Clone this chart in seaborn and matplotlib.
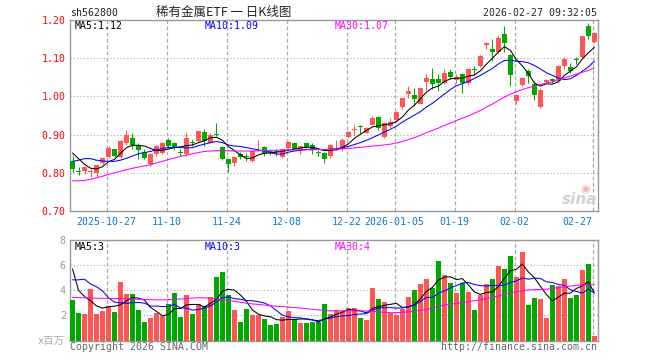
import numpy as np
import pandas as pd
import matplotlib.pyplot as plt
import seaborn as sns

# 稀有金属ETF (sh562800) daily K-line
# 88 trading days, 2025-10-17 .. 2026-02-27
opens = [0.832, 0.805, 0.806, 0.801, 0.800, 0.826, 0.842, 0.861, 0.842, 0.877,
         0.891, 0.874, 0.854, 0.822, 0.848, 0.852, 0.885, 0.878, 0.854, 0.848,
         0.881, 0.883, 0.908, 0.878, 0.902, 0.868, 0.835, 0.826, 0.850, 0.843,
         0.830, 0.864, 0.868, 0.857, 0.855, 0.842, 0.865, 0.878, 0.859, 0.877,
         0.874, 0.853, 0.852, 0.843, 0.864, 0.861, 0.893, 0.911, 0.923, 0.905,
         0.926, 0.946, 0.894, 0.922, 0.939, 0.972, 1.005, 1.003, 0.981, 1.039,
         1.045, 1.045, 1.036, 1.064, 1.043, 1.058, 1.034, 1.070, 1.080, 1.134,
         1.124, 1.115, 1.163, 1.108, 0.989, 1.030, 1.067, 1.032, 0.973, 1.039,
         1.045, 1.040, 1.080, 1.078, 1.097, 1.102, 1.183, 1.143]
highs = [0.845, 0.814, 0.816, 0.810, 0.824, 0.842, 0.870, 0.863, 0.885, 0.913,
         0.903, 0.878, 0.861, 0.852, 0.874, 0.880, 0.891, 0.880, 0.863, 0.904,
         0.889, 0.910, 0.915, 0.903, 0.930, 0.870, 0.836, 0.844, 0.854, 0.852,
         0.859, 0.885, 0.870, 0.860, 0.861, 0.865, 0.883, 0.880, 0.871, 0.878,
         0.877, 0.859, 0.854, 0.876, 0.887, 0.890, 0.909, 0.926, 0.924, 0.919,
         0.948, 0.948, 0.933, 0.944, 0.961, 0.998, 1.027, 1.021, 1.023, 1.058,
         1.075, 1.058, 1.071, 1.071, 1.058, 1.062, 1.073, 1.080, 1.108, 1.143,
         1.150, 1.160, 1.183, 1.111, 1.005, 1.052, 1.071, 1.040, 1.021, 1.046,
         1.048, 1.082, 1.102, 1.087, 1.102, 1.159, 1.192, 1.168]
lows = [0.803, 0.793, 0.797, 0.788, 0.790, 0.822, 0.840, 0.841, 0.839, 0.874,
        0.863, 0.837, 0.835, 0.819, 0.845, 0.850, 0.865, 0.859, 0.843, 0.845,
        0.870, 0.880, 0.871, 0.877, 0.896, 0.833, 0.802, 0.819, 0.835, 0.830,
        0.828, 0.857, 0.845, 0.847, 0.843, 0.840, 0.862, 0.859, 0.850, 0.865,
        0.848, 0.845, 0.826, 0.840, 0.860, 0.858, 0.891, 0.896, 0.904, 0.903,
        0.925, 0.911, 0.890, 0.919, 0.937, 0.968, 0.996, 0.975, 0.979, 1.017,
        1.020, 1.014, 1.033, 1.045, 1.036, 1.010, 1.029, 1.055, 1.078, 1.124,
        1.093, 1.113, 1.115, 1.027, 0.979, 1.027, 1.036, 0.990, 0.970, 1.034,
        1.034, 1.038, 1.071, 1.062, 1.084, 1.100, 1.150, 1.139]
closes = [0.810, 0.803, 0.814, 0.806, 0.820, 0.838, 0.866, 0.843, 0.882, 0.900,
          0.874, 0.859, 0.839, 0.850, 0.870, 0.877, 0.871, 0.868, 0.852, 0.891,
          0.879, 0.909, 0.883, 0.900, 0.900, 0.835, 0.824, 0.842, 0.842, 0.841,
          0.857, 0.866, 0.850, 0.851, 0.854, 0.863, 0.881, 0.863, 0.870, 0.868,
          0.863, 0.852, 0.837, 0.874, 0.866, 0.887, 0.906, 0.914, 0.920, 0.918,
          0.944, 0.916, 0.931, 0.933, 0.958, 0.996, 1.013, 0.992, 1.021, 1.049,
          1.033, 1.034, 1.061, 1.052, 1.052, 1.036, 1.071, 1.069, 1.106, 1.139,
          1.115, 1.154, 1.141, 1.055, 1.003, 1.049, 1.054, 1.003, 1.018, 1.042,
          1.040, 1.080, 1.099, 1.067, 1.096, 1.157, 1.157, 1.166]

# price moving averages as drawn (they start before the visible window)
ma5 = [0.852, 0.837, 0.822, 0.812, 0.810, 0.816, 0.829, 0.835, 0.851, 0.866,
       0.872, 0.872, 0.870, 0.864, 0.858, 0.859, 0.862, 0.866, 0.868, 0.871,
       0.873, 0.879, 0.884, 0.892, 0.893, 0.885, 0.869, 0.858, 0.847, 0.837,
       0.839, 0.847, 0.851, 0.852, 0.854, 0.856, 0.859, 0.862, 0.865, 0.867,
       0.867, 0.863, 0.858, 0.859, 0.860, 0.866, 0.876, 0.890, 0.901, 0.911,
       0.920, 0.923, 0.926, 0.928, 0.934, 0.946, 0.964, 0.977, 0.994, 1.011,
       1.022, 1.027, 1.039, 1.046, 1.048, 1.048, 1.053, 1.056, 1.067, 1.084,
       1.100, 1.116, 1.130, 1.121, 1.096, 1.080, 1.060, 1.035, 1.027, 1.033,
       1.032, 1.038, 1.055, 1.066, 1.077, 1.098, 1.114, 1.128]
ma10 = [0.830, 0.833, 0.837, 0.837, 0.833, 0.831, 0.830, 0.830, 0.833, 0.838,
        0.844, 0.850, 0.853, 0.856, 0.860, 0.864, 0.866, 0.867, 0.866, 0.865,
        0.866, 0.871, 0.875, 0.879, 0.882, 0.879, 0.873, 0.870, 0.869, 0.866,
        0.863, 0.860, 0.857, 0.853, 0.849, 0.849, 0.854, 0.857, 0.859, 0.861,
        0.862, 0.861, 0.860, 0.862, 0.863, 0.866, 0.869, 0.874, 0.879, 0.885,
        0.892, 0.899, 0.907, 0.914, 0.922, 0.933, 0.942, 0.951, 0.960, 0.972,
        0.982, 0.994, 1.006, 1.018, 1.028, 1.033, 1.039, 1.047, 1.055, 1.064,
        1.073, 1.085, 1.094, 1.095, 1.092, 1.091, 1.088, 1.081, 1.072, 1.062,
        1.055, 1.048, 1.044, 1.046, 1.055, 1.066, 1.077, 1.092]
ma30 = [0.779, 0.779, 0.780, 0.783, 0.787, 0.791, 0.796, 0.800, 0.804, 0.808,
        0.812, 0.815, 0.818, 0.821, 0.826, 0.830, 0.835, 0.839, 0.843, 0.846,
        0.850, 0.853, 0.856, 0.857, 0.858, 0.858, 0.858, 0.857, 0.857, 0.857,
        0.857, 0.858, 0.858, 0.859, 0.859, 0.860, 0.860, 0.860, 0.860, 0.860,
        0.860, 0.861, 0.861, 0.861, 0.862, 0.863, 0.864, 0.865, 0.867, 0.868,
        0.870, 0.871, 0.873, 0.875, 0.878, 0.882, 0.887, 0.892, 0.898, 0.905,
        0.911, 0.917, 0.924, 0.930, 0.937, 0.943, 0.949, 0.956, 0.963, 0.972,
        0.980, 0.989, 0.998, 1.006, 1.012, 1.018, 1.023, 1.027, 1.031, 1.035,
        1.038, 1.043, 1.049, 1.053, 1.058, 1.063, 1.068, 1.074]

# volume in millions of shares and its moving averages
volumes = [3.23, 2.21, 2.11, 4.11, 2.11, 2.37, 2.75, 2.29, 4.69, 3.71,
           3.71, 2.43, 1.49, 1.81, 2.16, 1.97, 2.91, 3.79, 1.89, 3.63,
           2.11, 2.91, 2.75, 3.44, 5.07, 5.47, 3.63, 2.43, 1.49, 2.51,
           2.03, 2.03, 1.68, 1.23, 1.31, 1.84, 2.35, 1.68, 1.36, 1.36,
           1.49, 1.49, 2.91, 2.11, 2.43, 2.37, 2.56, 2.61, 1.81, 1.63,
           4.16, 3.31, 3.09, 2.21, 2.03, 2.53, 3.49, 4.03, 4.53, 4.91,
           4.21, 6.35, 5.25, 4.61, 3.81, 4.61, 3.89, 2.43, 3.63, 4.53,
           4.91, 5.97, 5.71, 6.69, 5.07, 7.01, 2.83, 3.39, 3.31, 1.79,
           4.43, 4.35, 4.91, 3.39, 3.63, 5.63, 6.11, 0.35]
vol_ma5 = [5.70, 4.00, 3.50, 3.17, 2.75, 2.58, 2.69, 2.73, 2.84, 3.16,
           3.43, 3.37, 3.21, 2.63, 2.32, 1.97, 2.07, 2.53, 2.54, 2.84,
           2.87, 2.87, 2.66, 2.97, 3.26, 3.93, 4.07, 4.01, 3.62, 3.11,
           2.42, 2.10, 1.95, 1.90, 1.66, 1.62, 1.68, 1.68, 1.71, 1.72,
           1.65, 1.48, 1.72, 1.87, 2.09, 2.26, 2.48, 2.42, 2.36, 2.20,
           2.55, 2.70, 2.80, 2.88, 2.96, 2.63, 2.67, 2.86, 3.32, 3.90,
           4.23, 4.81, 5.05, 5.07, 4.85, 4.93, 4.43, 3.87, 3.67, 3.82,
           3.88, 4.29, 4.95, 5.56, 5.67, 6.09, 5.46, 5.00, 4.32, 3.67,
           3.15, 3.45, 3.76, 3.77, 4.14, 4.35, 4.68, 3.77]
vol_ma10 = [4.83, 4.83, 4.88, 4.50, 4.28, 3.95, 3.40, 3.05, 3.00, 2.96,
            3.01, 3.03, 2.97, 2.74, 2.74, 2.70, 2.72, 2.87, 2.59, 2.58,
            2.42, 2.47, 2.59, 2.76, 3.05, 3.40, 3.47, 3.33, 3.29, 3.18,
            3.17, 3.09, 2.98, 2.76, 2.38, 2.02, 1.89, 1.82, 1.80, 1.69,
            1.63, 1.58, 1.70, 1.79, 1.90, 1.96, 1.98, 2.07, 2.11, 2.14,
            2.41, 2.59, 2.61, 2.62, 2.58, 2.59, 2.69, 2.83, 3.10, 3.43,
            3.43, 3.74, 3.95, 4.19, 4.37, 4.58, 4.62, 4.46, 4.37, 4.33,
            4.40, 4.36, 4.41, 4.62, 4.74, 4.98, 4.88, 4.97, 4.94, 4.67,
            4.62, 4.46, 4.38, 4.05, 3.90, 3.77, 4.09, 3.79]
vol_ma30 = [3.44, 3.42, 3.40, 3.38, 3.36, 3.36, 3.35, 3.34, 3.33, 3.32,
            3.30, 3.28, 3.27, 3.25, 3.23, 3.23, 3.25, 3.28, 3.30, 3.34,
            3.38, 3.41, 3.40, 3.37, 3.32, 3.26, 3.19, 3.12, 3.04, 2.97,
            2.91, 2.87, 2.82, 2.77, 2.73, 2.70, 2.66, 2.62, 2.58, 2.53,
            2.48, 2.44, 2.39, 2.37, 2.37, 2.36, 2.36, 2.35, 2.35, 2.35,
            2.32, 2.28, 2.24, 2.21, 2.22, 2.24, 2.27, 2.33, 2.40, 2.47,
            2.58, 2.70, 2.82, 2.88, 2.95, 3.02, 3.09, 3.17, 3.25, 3.33,
            3.42, 3.55, 3.70, 3.80, 3.88, 3.96, 4.03, 4.05, 4.06, 4.08,
            4.14, 4.20, 4.27, 4.33, 4.38, 4.43, 4.43, 4.43]

tick_pos = [6, 16, 26, 36, 46, 54, 64, 74, 87]
tick_labels = ['2025-10-27', '11-10', '11-24', '12-08', '12-22',
               '2026-01-05', '01-19', '02-02', '02-27']
price_ticks = [0.70, 0.80, 0.90, 1.00, 1.10, 1.20]
vol_ticks = [2, 4, 6, 8]

UP = '#ff5555'
DOWN = '#00a800'
GRID = '#aaaaaa'

df = pd.DataFrame({'open': opens, 'high': highs, 'low': lows, 'close': closes,
                   'ma5': ma5, 'ma10': ma10, 'ma30': ma30, 'vol': volumes,
                   'vma5': vol_ma5, 'vma10': vol_ma10, 'vma30': vol_ma30})
df['idx'] = np.arange(len(df))
df['dir'] = np.where(df['close'] >= df['open'], 'up', 'down')
colors = df['dir'].map({'up': UP, 'down': DOWN})

sns.set_style('white')
plt.rcParams['font.family'] = ['DejaVu Sans Mono', 'Noto Sans CJK SC']

W, H = 660, 360


def fx(px):
    return px / W


def fy(py):
    return 1 - py / H


fig = plt.figure(figsize=(6.6, 3.6), dpi=100)
L, R = 70, 597.5
ax = fig.add_axes([fx(L), fy(211), (R - L) / W, (211 - 20) / H])
axv = fig.add_axes([fx(L), fy(340.5), (R - L) / W, (340.5 - 240) / H])

# candles
body_lo = np.minimum(df['open'], df['close'])
body_h = np.maximum((df['close'] - df['open']).abs(), 0.0018)
ax.vlines(df['idx'], df['low'], df['high'], colors=colors, lw=0.75, zorder=3)
ax.bar(df['idx'], body_h, bottom=body_lo, width=0.8, color=colors, lw=0, zorder=4)

for col, c in [('ma5', 'black'), ('ma10', '#0000ff'), ('ma30', '#ff00ff')]:
    sns.lineplot(data=df, x='idx', y=col, color=c, lw=0.75, ax=ax, zorder=5)

# volume
sns.barplot(data=df, x='idx', y='vol', hue='dir', palette={'up': UP, 'down': DOWN},
            native_scale=True, dodge=False, width=0.8, saturation=1,
            errorbar=None, legend=False, linewidth=0, ax=axv, zorder=3)
for col, c in [('vma5', 'black'), ('vma10', '#0000ff'), ('vma30', '#ff00ff')]:
    sns.lineplot(data=df, x='idx', y=col, color=c, lw=0.75, ax=axv, zorder=5)

for a in (ax, axv):
    a.set_xlim(-0.42, 87.53)
    a.set_xlabel('')
    a.set_ylabel('')
    for s in a.spines.values():
        s.set_color('#999999')
        s.set_linewidth(1)
    a.tick_params(length=0)
    for p in tick_pos:
        a.axvline(p - 0.3, color=GRID, ls=(0, (3, 2)), lw=0.9, zorder=1)

ax.set_ylim(0.70, 1.20)
ax.set_yticks(price_ticks, [f'{v:.2f}' for v in price_ticks])
ax.tick_params(axis='y', labelcolor='#ff0000', labelsize=7.1, pad=3)
for v in price_ticks[1:-1]:
    ax.axhline(v, color=GRID, ls=(0, (1, 2)), lw=0.8, zorder=1)
ax.set_xticks([p - 0.3 for p in tick_pos], tick_labels)
ax.tick_params(axis='x', labelcolor='#0a78d2', labelsize=7.1, pad=4)
ax.get_xticklabels()[-1].set_ha('right')

axv.set_ylim(0, 8)
axv.set_yticks(vol_ticks, [str(v) for v in vol_ticks])
axv.tick_params(axis='y', labelcolor='#999999', labelsize=7.3, pad=3)
for v in vol_ticks[:-1]:
    axv.axhline(v, color=GRID, ls=(0, (1, 2)), lw=0.8, zorder=1)
axv.set_xticks([p - 0.3 for p in tick_pos], [])

# header and labels
fig.text(fx(70), fy(13), 'sh562800', fontsize=7.1, color='#222222', va='center')
fig.text(fx(224), fy(12.5), '稀有金属ETF 一 日K线图', fontsize=9, ha='center', va='center',
         family=['Noto Sans CJK SC', 'DejaVu Sans'])
fig.text(fx(597), fy(13), '2026-02-27 09:32:05', fontsize=7.1, ha='right', va='center')

fig.text(fx(75), fy(26), 'MA5:1.12', fontsize=7.1, color='black', va='center')
fig.text(fx(205), fy(26), 'MA10:1.09', fontsize=7.1, color='#0000ff', va='center')
fig.text(fx(335), fy(26), 'MA30:1.07', fontsize=7.1, color='#ff00ff', va='center')
fig.text(fx(75), fy(246.5), 'MA5:3', fontsize=7.1, color='black', va='center')
fig.text(fx(205), fy(246.5), 'MA10:3', fontsize=7.1, color='#0000ff', va='center')
fig.text(fx(335), fy(246.5), 'MA30:4', fontsize=7.1, color='#ff00ff', va='center')

fig.text(fx(38), fy(341), 'x百万', fontsize=7.5, color='#aaaaaa', va='center')
fig.text(fx(70), fy(346.5), 'Copyright 2026 SINA.COM', fontsize=7.1, color='#666666', va='center')
fig.text(fx(597), fy(346.5), 'http://finance.sina.com.cn', fontsize=7.1, color='#666666',
         ha='right', va='center')
# faint sina watermark
fig.text(fx(585), fy(189), '◉', fontsize=8, color='#f4b4b4', ha='center', va='center',
         family='DejaVu Sans')
fig.text(fx(580), fy(200), 'sina', fontsize=11, style='italic', weight='bold',
         color='#d0d0d0', ha='center', va='center', family='DejaVu Sans')

fig.savefig('out.png', dpi=100)
